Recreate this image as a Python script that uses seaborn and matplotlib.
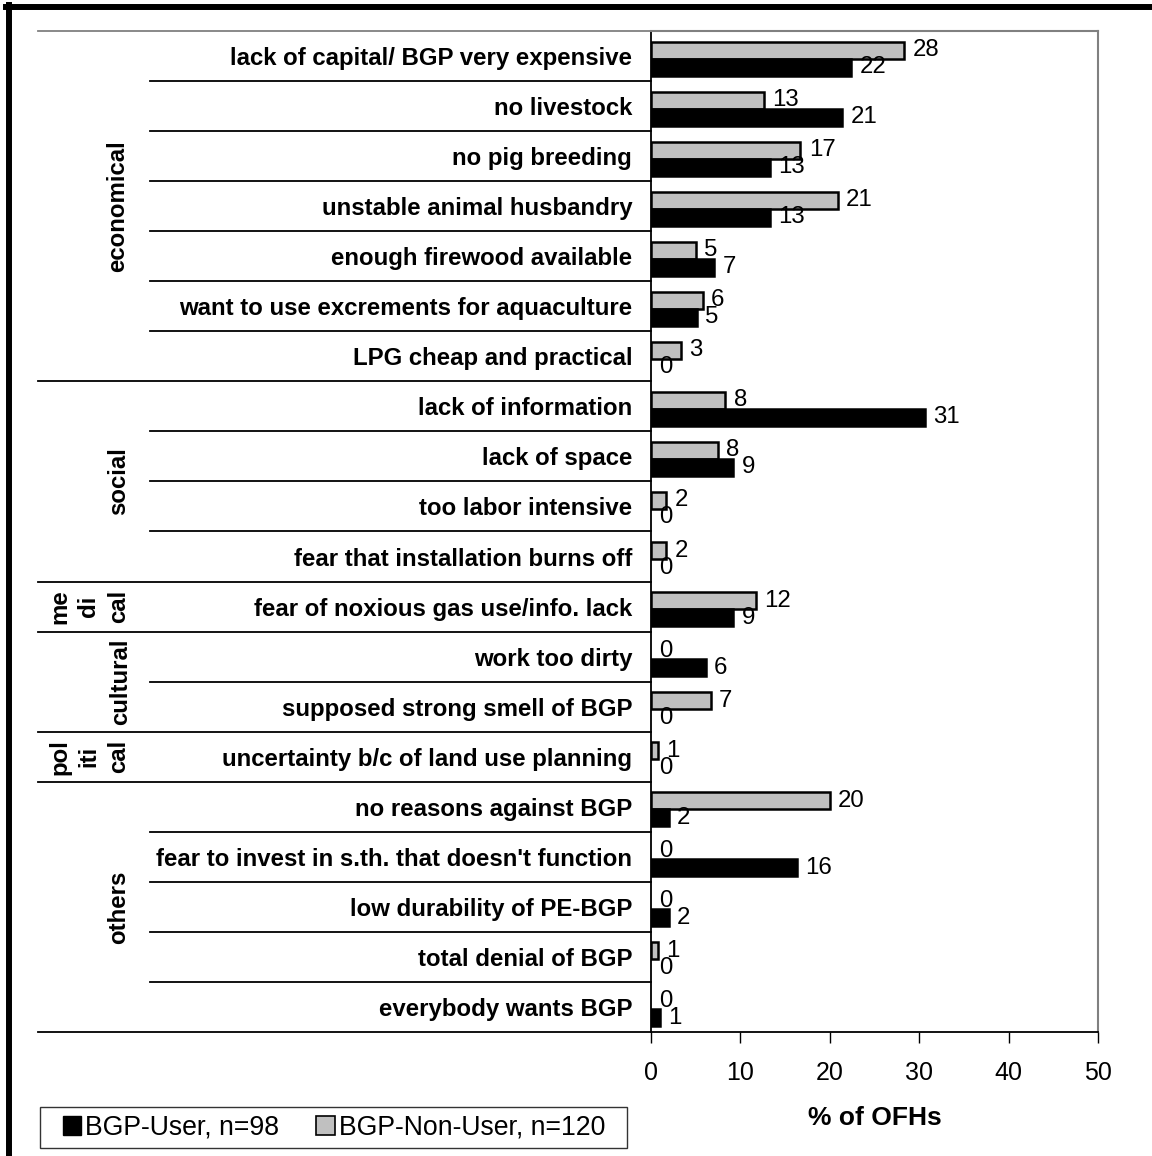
import matplotlib
matplotlib.use("Agg")
import matplotlib.pyplot as plt
import matplotlib.transforms as mtransforms
from matplotlib.patches import Patch, Rectangle
from matplotlib.lines import Line2D
import seaborn as sns
import pandas as pd

categories = [
    "lack of capital/ BGP very expensive",
    "no livestock",
    "no pig breeding",
    "unstable animal husbandry",
    "enough firewood available",
    "want to use excrements for aquaculture",
    "LPG cheap and practical",
    "lack of information",
    "lack of space",
    "too labor intensive",
    "fear that installation burns off",
    "fear of noxious gas use/info. lack",
    "work too dirty",
    "supposed strong smell of BGP",
    "uncertainty b/c of land use planning",
    "no reasons against BGP",
    "fear to invest in s.th. that doesn't function",
    "low durability of PE-BGP",
    "total denial of BGP",
    "everybody wants BGP",
]
non_user = [28.3, 12.6, 16.7, 20.9, 5.0, 5.8, 3.3, 8.3, 7.5, 1.7, 1.7, 11.7, 0, 6.7, 0.8, 20.0, 0, 0, 0.8, 0]
user = [22.4, 21.4, 13.3, 13.3, 7.1, 5.1, 0, 30.6, 9.2, 0, 0, 9.2, 6.1, 0, 0, 2.0, 16.3, 2.0, 0, 1.0]
groups = ["economical", "social", "me\ndi\ncal", "cultural", "pol\niti\ncal", "others"]
group_sizes = [7, 4, 1, 2, 1, 5]
series = ["BGP-Non-User, n=120", "BGP-User, n=98"]
xticks = [0, 10, 20, 30, 40, 50]

df = pd.DataFrame({
    "cat": categories * 2,
    "val": non_user + user,
    "grp": [series[0]] * len(categories) + [series[1]] * len(categories),
})

plt.rcParams["font.family"] = ["Liberation Sans", "DejaVu Sans"]
FS = 17.3

W, H = 1152, 1156
fig = plt.figure(figsize=(W / 100, H / 100), dpi=100)
x0, x1, yt, yb = 651, 1098, 31, 1032
ax = fig.add_axes([x0 / W, 1 - yb / H, (x1 - x0) / W, (yb - yt) / H])

sns.barplot(data=df, y="cat", x="val", hue="grp", hue_order=series,
            palette=["#C0C0C0", "#000000"], edgecolor="black", linewidth=1.8,
            width=0.68, saturation=1, errorbar=None, orient="h", ax=ax,
            legend=False)

# shift bars slightly downward as in the reference
for p in ax.patches:
    p.set_y(p.get_y() + 0.05)
    if p.get_width() == 0:
        p.set_linewidth(0)

for ci, cont in enumerate(ax.containers):
    vals = [b.get_width() for b in cont]
    ax.bar_label(cont, labels=[f"{v:.0f}" for v in vals], padding=6, fontsize=FS)

ax.set_xlim(0, 50)
ax.set_ylim(len(categories) - 0.5, -0.5)
ax.set_xticks(xticks)
ax.set_xticklabels([str(t) for t in xticks], fontsize=18)
ax.tick_params(axis="x", direction="out", length=8, width=1, pad=13, color="black")
ax.set_yticks(range(len(categories)))
ax.set_yticklabels(categories, fontsize=FS, fontweight="bold")
ax.tick_params(axis="y", length=0, pad=13.5)
ax.set_ylabel("")
ax.set_xlabel("% of OFHs", fontsize=19, fontweight="bold", labelpad=15)

for s in ["top", "right"]:
    ax.spines[s].set_color("#808080")
    ax.spines[s].set_linewidth(1.5)
for s in ["left", "bottom"]:
    ax.spines[s].set_color("black")
    ax.spines[s].set_linewidth(1.3)

trans = mtransforms.blended_transform_factory(ax.transAxes, ax.transData)
ax_w = x1 - x0
def fx(px):
    return (px - x0) / ax_w

# separators
bounds = [0]
for g in group_sizes:
    bounds.append(bounds[-1] + g)
group_edges = set(bounds)
for i in range(len(categories) + 1):
    y = i - 0.5
    xs = fx(38) if i in group_edges else fx(150)
    col = "#808080" if i == 0 else "black"
    ax.add_line(Line2D([xs, 0], [y, y], transform=trans, color=col,
                       linewidth=1.3, clip_on=False))

# group labels
gx = [118, 119, 89, 121, 89, 119]
for gi, (name, gs) in enumerate(zip(groups, group_sizes)):
    yc = (bounds[gi] + bounds[gi + 1] - 1) / 2
    ax.text(fx(gx[gi]), yc, name, transform=trans, rotation=90, ha="center",
            va="center", fontsize=FS, fontweight="bold", multialignment="center",
            linespacing=1.35)

# legend (frame drawn separately)
handles = [Patch(facecolor="#000000", edgecolor="black", label=series[1]),
           Patch(facecolor="#C0C0C0", edgecolor="black", linewidth=1.2, label=series[0])]
leg = fig.legend(handles=handles, loc="center", ncol=2,
                 bbox_to_anchor=(334 / W, 1 - 1128 / H), fontsize=19.2,
                 frameon=False, handlelength=0.68, handleheight=0.68,
                 handletextpad=0.15, columnspacing=1.4, borderpad=0.2)
fig.add_artist(Rectangle((40 / W, 1 - 1148 / H), 587 / W, 41 / H,
                         transform=fig.transFigure, fill=False,
                         edgecolor="#333333", linewidth=1.0))

# outer frame (left and top visible)
fig.add_artist(Line2D([9 / W, 9 / W], [0, 1 - 5 / H], transform=fig.transFigure,
                      color="black", linewidth=4.3))
fig.add_artist(Line2D([6 / W, 1], [1 - 7 / H, 1 - 7 / H], transform=fig.transFigure,
                      color="black", linewidth=4.3))

fig.savefig("out.png", dpi=100)
